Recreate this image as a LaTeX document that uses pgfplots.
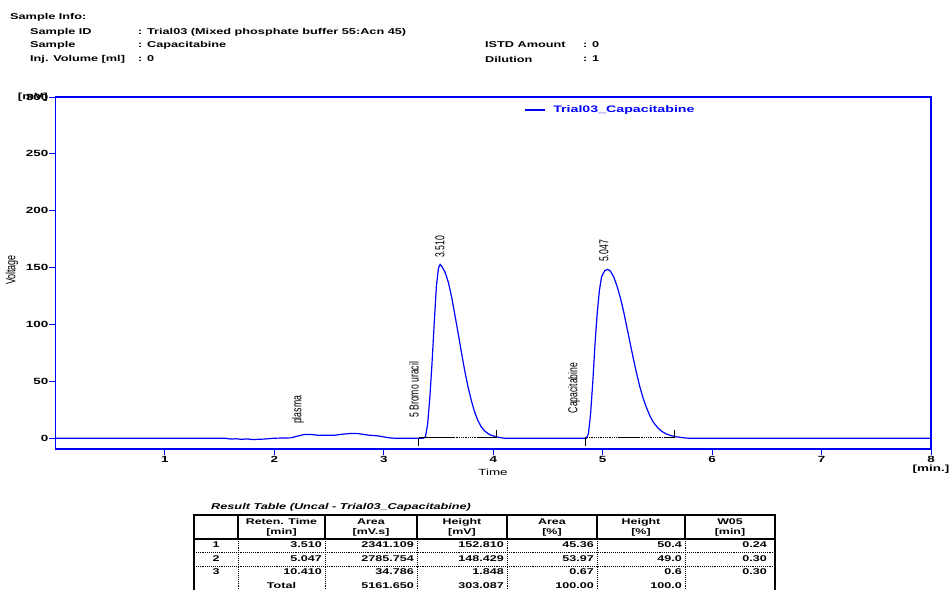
\documentclass[border=0pt]{standalone}
\usepackage{graphicx}
\usepackage{pgfplots}
\pgfplotsset{compat=1.18}
\usepackage{fontspec}
\setmainfont{Liberation Sans}
\newfontfamily\wf{Liberation Sans}[FakeStretch=1.5]
\newfontfamily\nf{Liberation Sans}
\newcommand\hf{\wf\bfseries\fontsize{8.5}{10}\selectfont}
\newcommand\tkf{\wf\bfseries\fontsize{9}{10}\selectfont}
\newcommand\thf{\wf\bfseries\fontsize{8.3}{9}\selectfont}
\newcommand\tdf{\wf\bfseries\fontsize{8.4}{9}\selectfont}
\newcommand\rot[1]{\scalebox{1}[1.5]{\nf\fontsize{8.7}{9}\selectfont #1}}
\begin{document}
\begin{tikzpicture}
\useasboundingbox (0,0) rectangle (951bp,-590bp);
% header
\begin{scope}[every node/.style={inner sep=0pt, anchor=west, font=\hf}]
\node at (10bp,-17bp) {Sample Info:};
\node at (30bp,-32bp) {Sample ID};
\node at (138bp,-32bp) {: Trial03 (Mixed phosphate buffer 55:Acn 45)};
\node at (30bp,-45bp) {Sample};
\node at (138bp,-45bp) {: Capacitabine};
\node at (30bp,-59bp) {Inj. Volume [ml]};
\node at (138bp,-59bp) {: 0};
\node at (485bp,-45bp) {ISTD Amount};
\node at (583bp,-45bp) {: 0};
\node at (485bp,-59bp) {Dilution};
\node at (583bp,-59bp) {: 1};
\end{scope}
% axis labels
\node[inner sep=0pt, rotate=90] at (12bp,-270bp) {\scalebox{1}[1.5]{\nf\fontsize{9}{10}\selectfont Voltage}};
\node[inner sep=0pt] at (493bp,-472bp) {\wf\fontsize{9}{10}\selectfont Time};
\node[inner sep=0pt] at (931bp,-469bp) {\tkf [min.]};
\begin{axis}[
  at={(55.5bp,-449bp)}, anchor=south west,
  scale only axis, width=875.5bp, height=352bp,
  xmin=0, xmax=8, ymin=-9.5, ymax=300,
  axis line style={blue, line width=1.1bp},
  xtick={1,2,3,4,5,6,7,8}, ytick={0,50,100,150,200,250,300},
  xtick pos=bottom, ytick pos=left,
  tick align=outside, major tick length=6bp,
  tick style={blue, line width=1bp},
  /pgf/number format/assume math mode=true,
  xticklabel style={font=\tkf, inner sep=1pt},
  yticklabel style={font=\tkf, inner sep=1pt},
  legend style={at={(0.535,0.963)}, anchor=west, draw=none, fill=none,
    font=\wf\bfseries\fontsize{9.5}{10}\selectfont, text=blue, inner sep=0pt},
  legend image code/.code={\draw[blue, line width=1.2bp] (0bp,0bp) -- (20bp,0bp);},
]
\addplot[blue, line width=1.2bp] coordinates {
(0,0) (1.55,0) (1.6,-0.8) (1.65,-0.5) (1.7,-1) (1.75,-0.6) (1.8,-1.2) (1.9,-0.8) (2.0,0)
(2.15,0.3) (2.22,2) (2.27,3.2) (2.33,3.3) (2.4,2.6) (2.55,2.6) (2.62,3.5) (2.7,4.2)
(2.77,4.0) (2.85,2.8) (2.95,2) (3.05,0.3) (3.1,0) (3.36,0) (3.38,1) (3.40,12) (3.42,35)
(3.44,65) (3.46,100) (3.48,133) (3.50,150) (3.515,152.8) (3.53,151) (3.56,146) (3.59,137)
(3.62,124) (3.65,108) (3.68,92) (3.71,75) (3.74,59) (3.77,45) (3.80,33) (3.83,23)
(3.86,15.5) (3.89,10) (3.92,6.5) (3.95,4.2) (3.98,2.6) (4.02,1.5) (4.06,0.6) (4.1,0)
(4.85,0) (4.87,4) (4.89,22) (4.91,50) (4.93,83) (4.95,110) (4.97,130) (4.99,142)
(5.02,147.5) (5.047,148.4) (5.07,147) (5.10,142) (5.13,134) (5.16,124) (5.19,112)
(5.22,98) (5.25,84) (5.28,70) (5.31,57) (5.34,45) (5.37,35) (5.40,27) (5.43,20)
(5.46,14.5) (5.50,9.5) (5.54,6) (5.58,3.8) (5.62,2.4) (5.66,1.4) (5.72,0.6) (5.78,0) (8,0)
};
\addlegendentry{\hspace{6bp}Trial03\_Capacitabine}
% integration baselines
\addplot[black, line width=0.9bp, forget plot] coordinates {(3.32,0) (3.32,-7)};
\addplot[black, line width=0.8bp, forget plot] coordinates {(3.32,0.3) (3.64,0.3)};
\addplot[black, line width=0.8bp, densely dotted, forget plot] coordinates {(3.64,0.3) (3.85,0.3)};
\addplot[black, line width=0.8bp, forget plot] coordinates {(3.85,0.3) (4.03,0.3)};
\addplot[black, line width=0.9bp, forget plot] coordinates {(4.03,0) (4.03,7)};
\addplot[black, line width=0.9bp, forget plot] coordinates {(4.84,0) (4.84,-7)};
\addplot[black, line width=0.8bp, densely dotted, forget plot] coordinates {(4.84,0.3) (5.16,0.3)};
\addplot[black, line width=0.8bp, forget plot] coordinates {(5.16,0.3) (5.33,0.3)};
\addplot[black, line width=0.8bp, densely dotted, forget plot] coordinates {(5.33,0.3) (5.56,0.3)};
\addplot[black, line width=0.8bp, forget plot] coordinates {(5.56,0.3) (5.66,0.3)};
\addplot[black, line width=0.9bp, forget plot] coordinates {(5.66,0) (5.66,7)};
% annotations
\node[rotate=90, inner sep=0pt] at (axis cs:2.216,24.9) {\rot{plasma}};
\node[rotate=90, inner sep=0pt] at (axis cs:3.276,42.5) {\rot{5 Bromo uracil}};
\node[rotate=90, inner sep=0pt] at (axis cs:4.738,44.2) {\rot{Capacitabine}};
\node[rotate=90, inner sep=0pt] at (axis cs:3.513,168.1) {\rot{3.510}};
\node[rotate=90, inner sep=0pt] at (axis cs:5.012,164.6) {\rot{5.047}};
\end{axis}
\node[inner sep=0pt, anchor=east] at (48bp,-97bp) {\tkf [mV]};
% result table
\node[inner sep=0pt, anchor=west] at (211bp,-507bp) {\wf\bfseries\itshape\fontsize{8.5}{10}\selectfont Result Table (Uncal - Trial03\_Capacitabine)};
\draw[line width=1.4bp] (194bp,-600bp) -- (194bp,-515bp) -- (775bp,-515bp) -- (775bp,-600bp);
\draw[line width=1.4bp] (194bp,-539bp) -- (775bp,-539bp);
\foreach \x in {238,325,417,507,597,685} {
  \draw[line width=1.4bp] (\x bp,-515bp) -- (\x bp,-539bp);
  \draw[line width=0.9bp, densely dotted] (\x bp,-539bp) -- (\x bp,-600bp);
}
\draw[line width=0.9bp, densely dotted] (194bp,-552bp) -- (775bp,-552bp);
\draw[line width=0.9bp, densely dotted] (194bp,-566bp) -- (775bp,-566bp);
\begin{scope}[every node/.style={inner sep=0pt, font=\thf}]
\node at (281.5bp,-522bp) {Reten. Time}; \node at (281.5bp,-532bp) {[min]};
\node at (371bp,-522bp) {Area}; \node at (371bp,-532bp) {[mV.s]};
\node at (462bp,-522bp) {Height}; \node at (462bp,-532bp) {[mV]};
\node at (552bp,-522bp) {Area}; \node at (552bp,-532bp) {[\%]};
\node at (641bp,-522bp) {Height}; \node at (641bp,-532bp) {[\%]};
\node at (730bp,-522bp) {W05}; \node at (730bp,-532bp) {[min]};
\end{scope}
\begin{scope}[every node/.style={inner sep=0pt, font=\tdf, anchor=east}]
\node[anchor=center] at (216bp,-545bp) {1};
\node at (322bp,-545bp) {3.510}; \node at (414bp,-545bp) {2341.109};
\node at (504bp,-545bp) {152.810}; \node at (594bp,-545bp) {45.36};
\node at (682bp,-545bp) {50.4}; \node at (767bp,-545bp) {0.24};
\node[anchor=center] at (216bp,-559bp) {2};
\node at (322bp,-559bp) {5.047}; \node at (414bp,-559bp) {2785.754};
\node at (504bp,-559bp) {148.429}; \node at (594bp,-559bp) {53.97};
\node at (682bp,-559bp) {49.0}; \node at (767bp,-559bp) {0.30};
\node[anchor=center] at (216bp,-572bp) {3};
\node at (322bp,-572bp) {10.410}; \node at (414bp,-572bp) {34.786};
\node at (504bp,-572bp) {1.848}; \node at (594bp,-572bp) {0.67};
\node at (682bp,-572bp) {0.6}; \node at (767bp,-572bp) {0.30};
\node[anchor=center] at (281.5bp,-586bp) {Total};
\node at (414bp,-586bp) {5161.650};
\node at (504bp,-586bp) {303.087}; \node at (594bp,-586bp) {100.00};
\node at (682bp,-586bp) {100.0};
\end{scope}
\end{tikzpicture}
\end{document}
